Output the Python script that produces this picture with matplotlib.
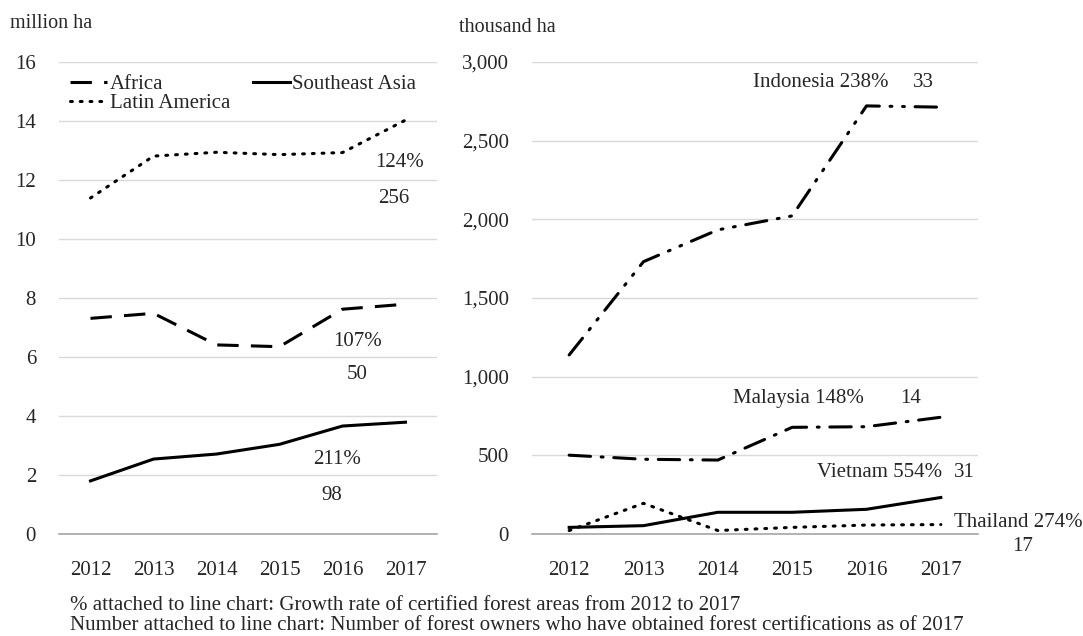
import matplotlib
matplotlib.use("Agg")
import matplotlib.pyplot as plt

plt.rcParams['font.family'] = ['Liberation Serif', 'DejaVu Serif']

years = ["2012", "2013", "2014", "2015", "2016", "2017"]

# Certified forest area by region (million ha)
africa = [7.31, 7.48, 6.41, 6.35, 7.62, 7.79]
southeast_asia = [1.80, 2.54, 2.71, 3.04, 3.66, 3.79]
latin_america = [11.39, 12.81, 12.94, 12.86, 12.93, 14.03]

# Certified forest area by country (thousand ha)
indonesia = [1138, 1731, 1933, 2022, 2721, 2713]
malaysia = [501, 475, 470, 678, 682, 742]
vietnam = [42, 53, 138, 138, 157, 232]
thailand = [22, 195, 22, 42, 57, 60]

# Growth rate 2012-2017 and number of certified forest owners in 2017
region_growth = {"Latin America": "124%", "Africa": "107%", "Southeast Asia": "211%"}
region_owners = {"Latin America": "256", "Africa": "50", "Southeast Asia": "98"}
country_growth = {"Indonesia": "238%", "Malaysia": "148%", "Vietnam": "554%", "Thailand": "274%"}
country_owners = {"Indonesia": "33", "Malaysia": "14", "Vietnam": "31", "Thailand": "17"}

W, H = 1083, 636
fig = plt.figure(figsize=(W / 100, H / 100), dpi=100)

TXT = "#262626"
GRID = "#d9d9d9"
AXIS = "#a6a6a6"
LW = 2.2
FS = 15


def box(x0, y0, x1, y1):
    return [x0 / W, 1 - y1 / H, (x1 - x0) / W, (y1 - y0) / H]


def style(ax, ylim, yticks, ylabels):
    ax.set_xlim(-0.5, 5.5)
    ax.set_ylim(*ylim)
    ax.set_yticks(yticks)
    ax.set_yticklabels(ylabels)
    ax.set_xticks(range(len(years)))
    ax.set_xticklabels(years)
    for s in ("top", "right", "left"):
        ax.spines[s].set_visible(False)
    ax.spines["bottom"].set_color(AXIS)
    ax.spines["bottom"].set_linewidth(1.2)
    ax.grid(axis="y", color=GRID, linewidth=1.0)
    ax.set_axisbelow(True)
    ax.tick_params(length=0, labelsize=FS, colors=TXT)
    ax.tick_params(axis="x", pad=19.5)
    ax.tick_params(axis="y", pad=16.5)


x = list(range(len(years)))

# ---- Left panel: regions ----
ax1 = fig.add_axes(box(59, 62, 437, 534))
style(ax1, (0, 16), range(0, 17, 2), [str(v) for v in range(0, 17, 2)])
ln_af, = ax1.plot(x, africa, color="black", lw=LW, dashes=(7, 4), label="Africa")
ln_la, = ax1.plot(x, latin_america, color="black", lw=LW, dashes=(0.6, 2.6),
                  dash_capstyle="round", label="Latin America")
ln_sea, = ax1.plot(x, southeast_asia, color="black", lw=LW, label="Southeast Asia")
ax1.legend(handles=[ln_af, ln_la, ln_sea], ncol=2, loc="upper left",
           bbox_to_anchor=(0.029, 0.974), frameon=False, fontsize=FS,
           handlelength=1.8, handletextpad=0.1, columnspacing=1.1,
           labelspacing=0.0, borderaxespad=0, borderpad=0)
for txt in ax1.get_legend().get_texts():
    txt.set_color(TXT)

lab = dict(fontsize=FS, color=TXT, ha="center", va="center")
ax1.text(4.91, 12.6, region_growth["Latin America"], **lab)
ax1.text(4.82, 11.36, region_owners["Latin America"], **lab)
ax1.text(4.24, 6.54, region_growth["Africa"], **lab)
ax1.text(4.23, 5.39, region_owners["Africa"], **lab)
ax1.text(3.91, 2.54, region_growth["Southeast Asia"], **lab)
ax1.text(3.83, 1.29, region_owners["Southeast Asia"], **lab)

# ---- Right panel: countries ----
ax2 = fig.add_axes(box(532, 62, 978, 534))
style(ax2, (0, 3000), range(0, 3001, 500),
      ["0", "500", "1,000", "1,500", "2,000", "2,500", "3,000"])
ax2.plot(x, indonesia, color="black", lw=LW, dashes=(7, 3.5, 0.6, 3.5, 0.6, 3.5),
         dash_capstyle="round")
ax2.plot(x, malaysia, color="black", lw=LW, dashes=(7, 3.5, 0.6, 3.5),
         dash_capstyle="round")
ax2.plot(x, vietnam, color="black", lw=LW)
ax2.plot(x, thailand, color="black", lw=LW, dashes=(0.6, 2.6), dash_capstyle="round")

left = dict(fontsize=FS, color=TXT, ha="left", va="center", clip_on=False)
ax2.text(2.47, 2869, f"Indonesia {country_growth['Indonesia']}", **left)
ax2.text(4.76, 2869, country_owners["Indonesia"], **lab)
ax2.text(2.2, 864, f"Malaysia {country_growth['Malaysia']}", **left)
ax2.text(4.6, 864, country_owners["Malaysia"], **lab)
ax2.text(3.33, 390, f"Vietnam {country_growth['Vietnam']}", **left)
ax2.text(5.31, 390, country_owners["Vietnam"], **lab)
ax2.text(5.18, 72, f"Thailand {country_growth['Thailand']}", **left)
ax2.text(6.1, -81, country_owners["Thailand"], clip_on=False, **lab)

# Units
fig.text(10 / W, 1 - 24 / H, "million ha", fontsize=14.5, color=TXT, ha="left", va="center")
fig.text(459 / W, 1 - 27 / H, "thousand ha", fontsize=14.5, color=TXT, ha="left", va="center")

# Notes
fig.text(70 / W, 1 - 605 / H,
         "% attached to line chart: Growth rate of certified forest areas from 2012 to 2017",
         fontsize=FS, color=TXT, ha="left", va="center")
fig.text(70 / W, 1 - 626 / H,
         "Number attached to line chart: Number of forest owners who have obtained forest certifications as of 2017",
         fontsize=FS, color=TXT, ha="left", va="center")

fig.savefig("out.png", dpi=100)
